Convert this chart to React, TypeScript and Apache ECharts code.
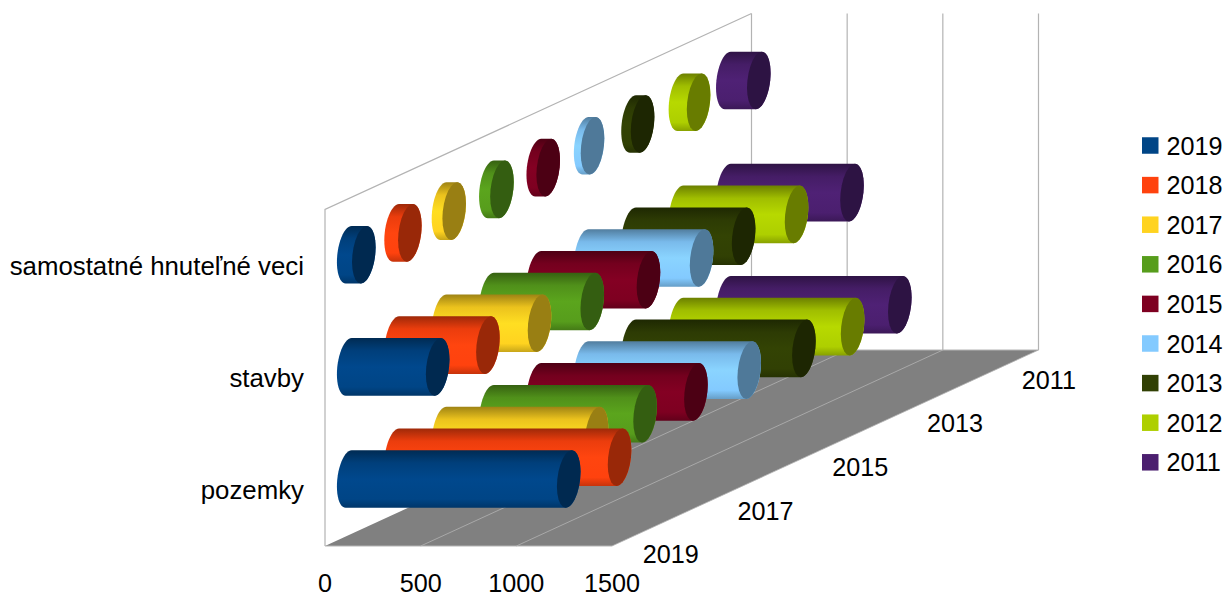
import React, { useEffect, useRef } from "react";
import * as echarts from "echarts";

const categories = ["pozemky", "stavby", "samostatné hnuteľné veci"];
const years = ["2019", "2018", "2017", "2016", "2015", "2014", "2013", "2012", "2011"];
const depthLabels = ["2019", "2017", "2015", "2013", "2011"];
const colors = ["#004586", "#ff420e", "#ffd320", "#579d1c", "#7e0021", "#83caff", "#314004", "#aecf00", "#4b1f6f"];

const pozemky = [1150, 1168, 800, 806, 824, 855, 893, 900, 899];
const stavby = [465, 480, 502, 530, 576, 606, 578, 607, 649];
const hnutelne = [79, 72, 56, 58, 52, 36, 50, 95, 162];

const FONT = "Liberation Sans";
const FS = 25.2;
const CAT_FS = 25.8;
const DEPTH_X = 426.5 / 9;
const DEPTH_Y = 196 / 9;
const RX = 11.4;
const RY = 28.8;
const SHEAR = 3;

function shade(hex: string, f: number) {
  const n = parseInt(hex.slice(1), 16);
  const c = [(n >> 16) & 255, (n >> 8) & 255, n & 255].map((v) => Math.min(255, Math.round(v * f)));
  return `rgb(${c[0]},${c[1]},${c[2]})`;
}

function arc(cx: number, cy: number, from: number, to: number) {
  const pts: number[][] = [];
  const steps = 24;
  for (let i = 0; i <= steps; i++) {
    const t = from + ((to - from) * i) / steps;
    pts.push([cx + RX * Math.cos(t) - SHEAR * Math.sin(t), cy + RY * Math.sin(t)]);
  }
  return pts;
}

function cylinderRenderer(yearIdx: number) {
  const color = colors[yearIdx];
  const fill = {
    type: "linear",
    x: 0,
    y: 0,
    x2: 0,
    y2: 1,
    colorStops: [
      { offset: 0, color: shade(color, 0.62) },
      { offset: 0.22, color: shade(color, 0.92) },
      { offset: 0.5, color: shade(color, 1.05) },
      { offset: 0.85, color: shade(color, 1) },
      { offset: 1, color: shade(color, 0.78) },
    ],
  };
  return (_params: any, api: any) => {
    const base = api.coord([0, api.value(1)]);
    const end = api.coord([api.value(0), api.value(1)]);
    const dx = DEPTH_X * (yearIdx + 0.5);
    const dy = DEPTH_Y * (yearIdx + 0.5);
    const bx = base[0] + dx;
    const ex = end[0] + dx;
    const cy = base[1] - dy;
    const body = [
      ...arc(bx, cy, Math.PI / 2, (3 * Math.PI) / 2),
      ...arc(ex, cy, -Math.PI / 2, Math.PI / 2),
    ];
    return {
      type: "group",
      children: [
        { type: "polygon", shape: { points: body }, style: { fill } },
        {
          type: "polygon",
          shape: { points: arc(ex, cy, 0, 2 * Math.PI) },
          style: { fill: shade(color, 0.6) },
        },
      ],
    };
  };
}

function frameRenderer(params: any, api: any) {
  const cs = params.coordSys;
  const left = cs.x;
  const right = cs.x + cs.width;
  const bottom = cs.y + cs.height;
  const top = cs.y;
  const DX = DEPTH_X * years.length;
  const DY = DEPTH_Y * years.length;
  const lineStyle = { stroke: "#b3b3b3", lineWidth: 1.2, fill: "none" };
  const children: any[] = [];
  children.push({
    type: "polygon",
    shape: {
      points: [
        [left, bottom],
        [right, bottom],
        [right + DX, bottom - DY],
        [left + DX, bottom - DY],
      ],
    },
    style: { fill: "#808080" },
  });
  children.push({
    type: "polyline",
    shape: {
      points: [
        [left, bottom],
        [left, top],
        [left + DX, top - DY],
      ],
    },
    style: lineStyle,
  });
  children.push({
    type: "line",
    shape: { x1: left, y1: bottom, x2: right, y2: bottom },
    style: lineStyle,
  });
  children.push({
    type: "line",
    shape: { x1: left + DX, y1: bottom - DY, x2: right + DX, y2: bottom - DY },
    style: lineStyle,
  });
  [0, 500, 1000, 1500].forEach((v) => {
    const x = api.coord([v, 0])[0];
    if (v > 0) {
      children.push({
        type: "line",
        shape: { x1: x, y1: bottom, x2: x + DX, y2: bottom - DY },
        style: { ...lineStyle, lineWidth: 0.8 },
      });
    }
    children.push({
      type: "line",
      shape: { x1: x + DX, y1: bottom - DY, x2: x + DX, y2: top - DY },
      style: lineStyle,
    });
  });
  depthLabels.forEach((label) => {
    const i = years.indexOf(label);
    children.push({
      type: "text",
      x: right + DEPTH_X * (i + 0.5) + 7,
      y: bottom - DEPTH_Y * (i + 0.5) + 19,
      style: {
        text: label,
        fontFamily: FONT,
        fontSize: FS,
        fill: "#000",
        align: "left",
        verticalAlign: "middle",
      },
    });
  });
  return { type: "group", children };
}

export default function App() {
  const ref = useRef<HTMLDivElement>(null);
  useEffect(() => {
    document.body.style.margin = "0";
    const chart = echarts.init(ref.current!, null, { renderer: "svg" });
    const valueSets = [pozemky, stavby, hnutelne];
    chart.setOption({
      animation: false,
      backgroundColor: "#fff",
      textStyle: { fontFamily: FONT },
      grid: { left: 325, top: 209.5, width: 287, height: 337.5, containLabel: false },
      xAxis: {
        type: "value",
        min: 0,
        max: 1500,
        interval: 500,
        axisLine: { show: false },
        axisTick: { show: false },
        splitLine: { show: false },
        axisLabel: {
          fontFamily: FONT,
          fontSize: FS,
          color: "#000",
          margin: 24,
          showMinLabel: true,
          showMaxLabel: true,
          formatter: (v: number) => String(v),
        },
      },
      yAxis: {
        type: "category",
        data: categories,
        axisLine: { show: false },
        axisTick: { show: false },
        splitLine: { show: false },
        axisLabel: { fontFamily: FONT, fontSize: CAT_FS, color: "#000", margin: 21, padding: [2, 0, 0, 0] },
      },
      legend: {
        data: years,
        orient: "vertical",
        left: 1142,
        top: 133,
        padding: 0,
        icon: "rect",
        itemWidth: 16.5,
        itemHeight: 16.5,
        itemGap: 14.6,
        selectedMode: false,
        textStyle: { fontFamily: FONT, fontSize: FS, color: "#000", lineHeight: 24, padding: [0, 0, 0, 3] },
      },
      series: [
        {
          type: "custom",
          name: "frame",
          silent: true,
          z: 1,
          clip: false,
          data: [[0, 0]],
          renderItem: frameRenderer,
        },
        ...years.map((y, i) => ({
          type: "custom",
          name: y,
          silent: true,
          z: 20 - i,
          clip: false,
          itemStyle: { color: colors[i] },
          encode: { x: 0, y: 1 },
          data: valueSets.map((vals, c) => [vals[i], c]),
          renderItem: cylinderRenderer(i),
        })),
      ],
    });
    return () => chart.dispose();
  }, []);
  return <div ref={ref} style={{ width: 1227, height: 595 }} />;
}
